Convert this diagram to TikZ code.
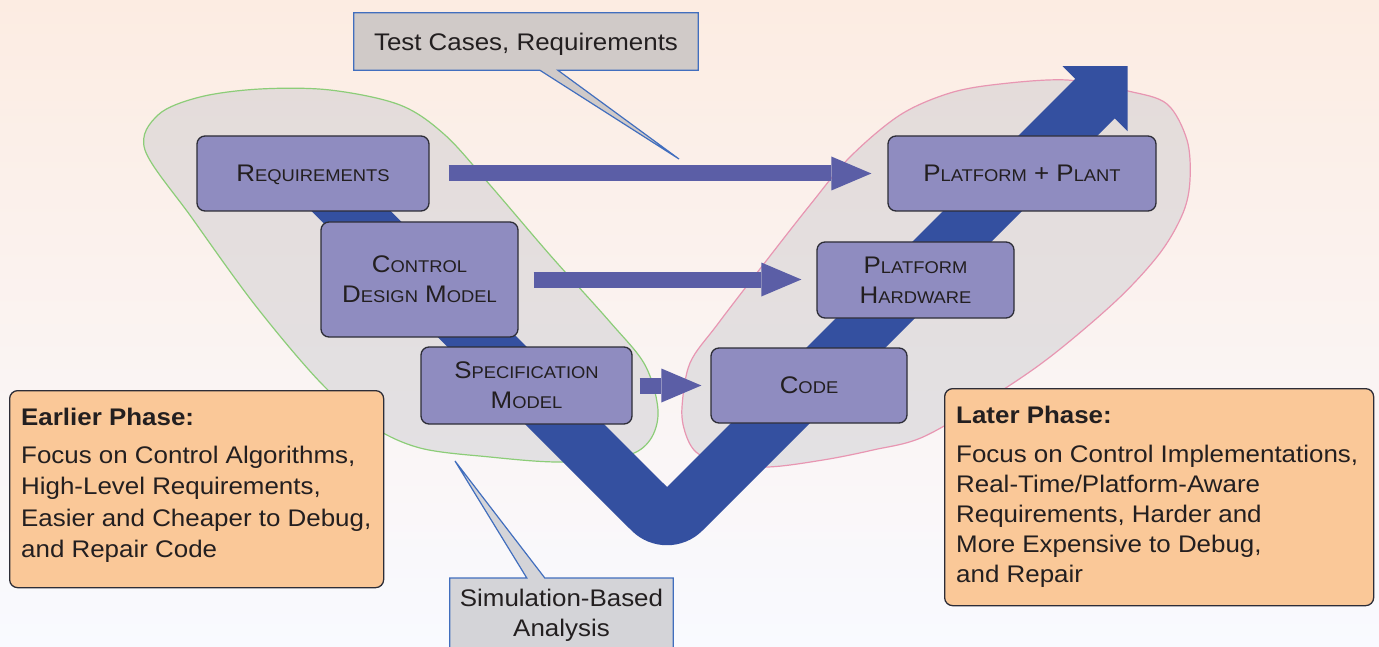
\documentclass[tikz,border=0pt]{standalone}
\usepackage{fontspec}
\setmainfont{Liberation Sans}[FakeStretch=1.08]
\usetikzlibrary{calc,arrows.meta}

\definecolor{bgtop}{RGB}{252,236,226}
\definecolor{bgmid}{RGB}{252,246,242}
\definecolor{bgbot}{RGB}{249,250,255}
\definecolor{blobbase}{RGB}{200,200,205}
\definecolor{blobgreen}{RGB}{140,205,120}
\definecolor{blobpink}{RGB}{232,150,178}
\definecolor{vblue}{RGB}{52,80,160}
\definecolor{flowcol}{RGB}{91,94,166}
\definecolor{stagefill}{RGB}{143,140,192}
\definecolor{edgecol}{RGB}{45,45,55}
\definecolor{phasefill}{RGB}{250,200,152}
\definecolor{notegray}{RGB}{208,202,200}
\definecolor{notegrayb}{RGB}{212,212,216}
\definecolor{noteblue}{RGB}{65,110,190}
\definecolor{inkcol}{RGB}{35,31,32}

% fake small capitals for the stage labels
\newcommand\smc[1]{{\fontsize{17}{20}\selectfont #1}}

% outlines of the two phase regions
\def\earlyregion{(145,150) (158,115) (200,97) (260,89) (330,90) (400,105) (445,135)
  (490,185) (550,255) (610,322) (645,365) (658,410) (650,440) (625,456) (560,462)
  (490,457) (420,448) (370,425) (320,382) (255,305) (192,218)}
\def\lateregion{(1000,84) (1067,80) (1128,91) (1167,104) (1187,140) (1190,180)
  (1183,213) (1160,253) (1117,300) (1050,357) (990,398) (923,437) (873,450)
  (823,460) (767,467) (720,462) (696,452) (685,432) (682,407) (690,363) (717,325)
  (763,265) (810,205) (850,157) (900,115) (950,93)}

\tikzset{
  stage/.style={draw=edgecol, line width=1.3pt, fill=stagefill, rounded corners=8pt,
    align=center, text=inkcol, font=\fontsize{24}{30}\selectfont, inner sep=0pt, text depth=0pt},
  phase/.style={draw=edgecol, line width=1.3pt, fill=phasefill, rounded corners=8pt, inner sep=0pt},
  phasetext/.style={anchor=north west, align=left, inner sep=0pt, text=inkcol},
  flow/.style={line width=16pt, draw=flowcol, -{Triangle[length=40pt,width=34pt,line width=0pt]}},
  note/.style={inner sep=0pt, text=inkcol, font=\fontsize{24}{30}\selectfont, align=center},
  noteline/.style={draw=noteblue, line width=1.2pt, line join=miter},
  blob/.style={fill=blobbase, fill opacity=0.45},
  rim/.style={line width=1.2pt},
}

\begin{document}
\begin{tikzpicture}[x=1pt,y=-1pt]
  \useasboundingbox (0,0) rectangle (1379,647);
  \shade[top color=bgtop, middle color=bgmid, bottom color=bgbot] (0,0) rectangle (1379,647);

  % phase regions
  \path[blob] plot[smooth cycle, tension=0.55] coordinates {\earlyregion};
  \draw[rim, blobgreen] plot[smooth cycle, tension=0.55] coordinates {\earlyregion};
  \path[blob] plot[smooth cycle, tension=0.55] coordinates {\lateregion};
  \draw[rim, blobpink] plot[smooth cycle, tension=0.55] coordinates {\lateregion};

  % the V-shaped development arrow
  \fill[vblue] (300.2,199.8) -- (339.8,160.2) -- (667,487) -- (1075.2,78.8)
    -- (1062.5,66.1) -- (1127.5,66.1) -- (1127.5,131.1) -- (1114.8,118.4)
    -- (702.4,530.6) .. controls (682.9,550.1) and (651.1,550.1) .. (631.6,530.6) -- cycle;

  % stages
  \node[stage, minimum width=232pt, minimum height=75pt] (req) at (313,173.5) {R\smc{EQUIREMENTS}};
  \node[stage, minimum width=197pt, minimum height=115pt] (cdm) at (419.5,279.5) {C\smc{ONTROL}\\D\smc{ESIGN} M\smc{ODEL}};
  \node[stage, minimum width=211pt, minimum height=77pt] (spec) at (526.5,385.5) {S\smc{PECIFICATION}\\M\smc{ODEL}};
  \node[stage, minimum width=268pt, minimum height=75pt] (plant) at (1022,173.5) {P\smc{LATFORM} + P\smc{LANT}};
  \node[stage, minimum width=197pt, minimum height=76pt] (hw) at (915.5,280) {P\smc{LATFORM}\\H\smc{ARDWARE}};
  \node[stage, minimum width=196pt, minimum height=75pt] (code) at (809,385.5) {C\smc{ODE}};

  % correspondence arrows
  \draw[flow, shorten <=19pt, shorten >=16pt] (req.east) -- (req.east -| plant.west);
  \draw[flow, shorten <=15pt, shorten >=15pt] (cdm.east) -- (cdm.east -| hw.west);
  \draw[flow, shorten <=7pt, shorten >=9pt] (spec.east) -- (spec.east -| code.west);

  % callouts
  \node[note, fill=notegray, minimum width=344pt, minimum height=57pt, text depth=0pt] (tc) at (526,41.5) {Test Cases, Requirements};
  \coordinate (tctip) at (679,159);
  \fill[notegray] ($(tc.south west)+(186,0)$) -- (tctip) -- ($(tc.south west)+(204,0)$) -- cycle;
  \draw[noteline] (tc.south west) -- (tc.north west) -- (tc.north east) -- (tc.south east)
    -- ($(tc.south west)+(204,0)$) -- (tctip) -- ($(tc.south west)+(186,0)$) -- cycle;

  \node[note, fill=notegrayb, anchor=north, minimum width=223pt, minimum height=75pt] (sim) at (561.5,578) {Simulation-Based\\Analysis};
  \coordinate (simtip) at (455,461);
  \fill[notegrayb] ($(sim.north west)+(77,0)$) -- (simtip) -- ($(sim.north west)+(95,0)$) -- cycle;
  \draw[noteline] (sim.south west) -- (sim.north west) -- ($(sim.north west)+(77,0)$) -- (simtip)
    -- ($(sim.north west)+(95,0)$) -- (sim.north east) -- (sim.south east) -- cycle;

  % phase descriptions
  \node[phase, anchor=north west, minimum width=374pt, minimum height=197pt] (early) at (9,390) {};
  \node[phasetext, font=\fontsize{24}{31.5}\selectfont] (earlytext) at (21,407.5)
    {\textbf{Earlier Phase:}\\[6.5pt]Focus on Control Algorithms,\\High-Level Requirements,\\Easier and Cheaper to Debug,\\and Repair Code};
  \node[phase, anchor=north west, minimum width=429pt, minimum height=217pt] (late) at (944,388) {};
  \node[phasetext, font=\fontsize{24}{30.2}\selectfont] (latetext) at (956,405.5)
    {\textbf{Later Phase:}\\[8.8pt]Focus on Control Implementations,\\Real-Time/Platform-Aware\\Requirements, Harder and\\More Expensive to Debug,\\and Repair};
\end{tikzpicture}
\end{document}
